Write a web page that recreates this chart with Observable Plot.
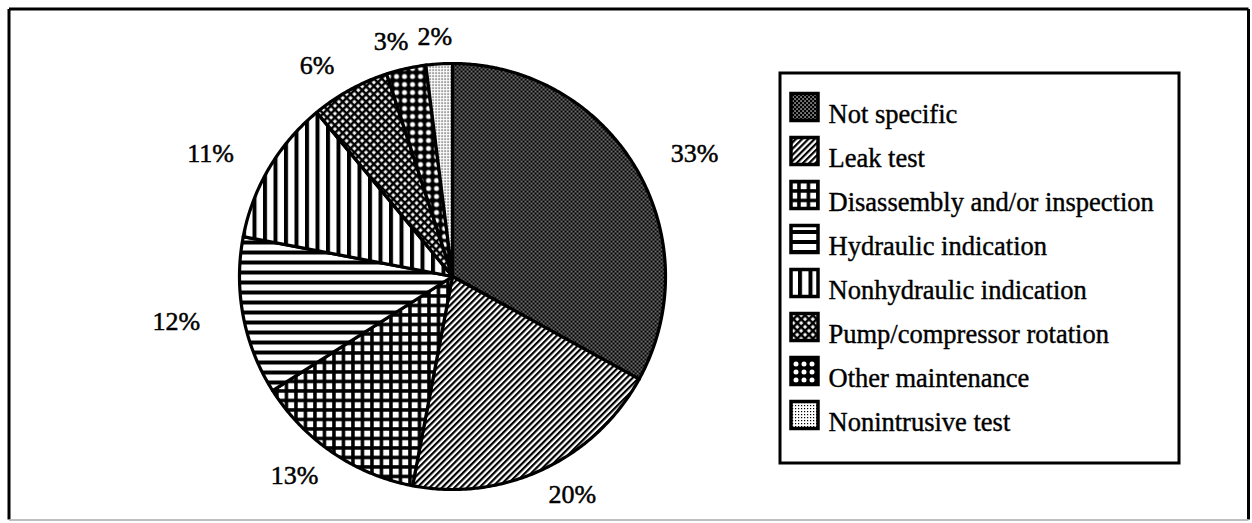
<!DOCTYPE html>
<html><head><meta charset="utf-8">
<script src="https://cdn.jsdelivr.net/npm/d3@7"></script>
<script src="https://cdn.jsdelivr.net/npm/@observablehq/plot@0.6"></script>
<style>
html,body{margin:0;padding:0;background:#fff}
#chart svg text{font-family:"Liberation Serif","Times New Roman",serif !important}
</style>
</head><body><div id="chart"></div>
<script>
// ---- data ----
const categories = ["Not specific", "Leak test", "Disassembly and/or inspection", "Hydraulic indication",
  "Nonhydraulic indication", "Pump/compressor rotation", "Other maintenance", "Nonintrusive test"];
const shares = [33, 20, 13, 12, 11, 6, 3, 2];
const labels = ["33%", "20%", "13%", "12%", "11%", "6%", "3%", "2%"];
const patternIds = ["pNot", "pLeak", "pGrid", "pHoriz", "pVert", "pDiag", "pDots", "pFine"];

// ---- layout ----
const W = 1252, H = 523;
const cx = 452, cy = 276, R = 213;
const font = "Liberation Serif";

const arcs = d3.pie().sort(null).value(d => d)(shares);
const slicePts = [];
arcs.forEach((a, i) => {
  slicePts.push({k: i, x: cx, y: cy});
  const n = Math.max(2, Math.ceil((a.endAngle - a.startAngle) / (Math.PI / 360)));
  for (let j = 0; j <= n; j++) {
    const t = a.startAngle + (a.endAngle - a.startAngle) * j / n;
    slicePts.push({k: i, x: cx + R * Math.sin(t), y: cy - R * Math.cos(t)});
  }
  slicePts.push({k: i, x: cx, y: cy});
});
const labelPts = arcs.map((a, i) => {
  const m = (a.startAngle + a.endAngle) / 2;
  return {text: labels[i], x: cx + 1.32 * R * Math.sin(m), y: cy - 1.13 * R * Math.cos(m)};
});
const legRow0 = 107, legStep = 44, swX1 = 791, swX2 = 818, sw = 27;
const legend = categories.map((c, i) => ({name: c, k: i, y: legRow0 + i * legStep}));

const frame = [
  {x1: 8.5, y1: 8.5, x2: 1248, y2: 8.5, c: "#000", w: 3},
  {x1: 8.5, y1: 8.5, x2: 8.5, y2: 519, c: "#000", w: 3},
  {x1: 1248, y1: 8.5, x2: 1248, y2: 519, c: "#000", w: 3},
  {x1: 8.5, y1: 519.5, x2: 1248, y2: 519.5, c: "#aaa", w: 1.5}
];

const svg = Plot.plot({
  width: W, height: H,
  margin: 0,
  x: {domain: [0, W], range: [0, W], axis: null},
  y: {domain: [0, H], range: [0, H], axis: null},
  color: {type: "identity"},
  style: {background: "#fff", color: "#000", fontFamily: font},
  marks: [
    Plot.link(frame, {x1: "x1", y1: "y1", x2: "x2", y2: "y2", stroke: "c", strokeWidth: "w"}),
    Plot.line(slicePts, {x: "x", y: "y", z: "k", fill: d => `url(#${patternIds[d.k]})`,
      stroke: "#000", strokeWidth: 3.2, strokeLinejoin: "round"}),
    Plot.text(labelPts, {x: "x", y: "y", text: "text", fontSize: 26, fontFamily: font,
      fill: "#000", textAnchor: "middle", lineAnchor: "middle", stroke: "#000", strokeWidth: 0.5}),
    Plot.rect([0], {x1: 780, x2: 1179, y1: 73, y2: 463, fill: "#fff", stroke: "#000", strokeWidth: 3}),
    Plot.rect(legend, {x1: swX1, x2: swX2, y1: d => d.y - sw / 2, y2: d => d.y + sw / 2,
      fill: d => `url(#${patternIds[d.k]})`, stroke: "#000", strokeWidth: 3.5}),
    Plot.text(legend, {x: 828, y: d => d.y + 7, text: "name", fontSize: 26.5, fontFamily: font,
      fill: "#000", textAnchor: "start", lineAnchor: "middle", stroke: "#000", strokeWidth: 0.4})
  ]
});

// pattern definitions
const defs = d3.select(svg).insert("defs", ":first-child");
function pat(id, w, h, tr) {
  const p = defs.append("pattern").attr("id", id).attr("patternUnits", "userSpaceOnUse")
    .attr("width", w).attr("height", h);
  if (tr) p.attr("patternTransform", tr);
  return p;
}
function rect(p, x, y, w, h, f) { p.append("rect").attr("x", x).attr("y", y).attr("width", w).attr("height", h).attr("fill", f); }
let p;
p = pat("pNot", 4, 4); rect(p, 0, 0, 4, 4, "#000"); rect(p, 0.4, 0.4, 1.3, 1.3, "#fff"); rect(p, 2.4, 2.4, 1.3, 1.3, "#fff");
p = pat("pLeak", 4.4, 4.4, "rotate(45)"); rect(p, 0, 0, 4.4, 4.4, "#fff"); rect(p, 0, 0, 2.2, 4.4, "#000");
p = pat("pGrid", 9.5, 9.5); rect(p, 0, 0, 9.5, 9.5, "#000"); rect(p, 2.7, 2.7, 6, 6, "#fff");
p = pat("pHoriz", 10, 10); rect(p, 0, 0, 10, 10, "#fff"); rect(p, 0, 0, 10, 4, "#000");
p = pat("pVert", 10.5, 10.5); rect(p, 0, 0, 10.5, 10.5, "#fff"); rect(p, 0, 0, 4, 10.5, "#000");
p = pat("pDiag", 5.5, 5.5, "rotate(45)"); rect(p, 0, 0, 5.5, 5.5, "#000"); rect(p, 1.4, 1.4, 3, 3, "#fff");
p = pat("pDots", 8, 8); rect(p, 0, 0, 8, 8, "#000"); p.append("circle").attr("cx", 4).attr("cy", 4).attr("r", 2.5).attr("fill", "#fff");
p = pat("pFine", 3, 3); rect(p, 0, 0, 3, 3, "#fff"); rect(p, 0, 0, 1.2, 1.2, "#000");

document.getElementById("chart").appendChild(svg);
</script>
</body></html>
